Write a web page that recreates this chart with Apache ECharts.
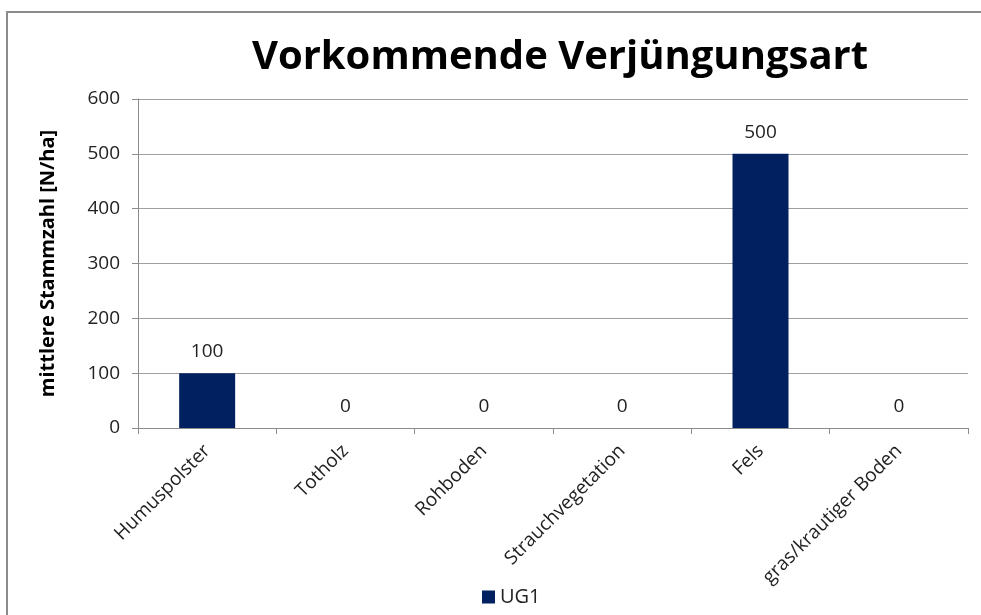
<!DOCTYPE html>
<html>
<head>
<meta charset="utf-8">
<script src="https://cdn.jsdelivr.net/npm/echarts@6/dist/echarts.min.js"></script>
<style>
  html, body { margin: 0; padding: 0; background: #fff; overflow: hidden; }
  #frame { position: absolute; left: 6px; top: 11px; width: 990px; height: 620px; border-left: 2px solid #8c8c8c; border-top: 2px solid #8c8c8c; box-sizing: border-box; }
  #chart { position: absolute; left: 0; top: 0; width: 981px; height: 615px; }
</style>
</head>
<body>
<div id="frame"></div>
<div id="chart"></div>
<script>
const categories = ['Humuspolster', 'Totholz', 'Rohboden', 'Strauchvegetation', 'Fels', 'gras/krautiger Boden'];
const ug1 = [100, 0, 0, 0, 500, 0];
const font = '"Open Sans", "Noto Sans", sans-serif';

const chart = echarts.init(document.getElementById('chart'), null, { renderer: 'canvas' });

chart.setOption({
    backgroundColor: 'transparent',
    animation: false,
    title: {
        text: 'Vorkommende Verjüngungsart',
        left: 555,
        textAlign: 'center',
        top: 33,
        textStyle: { fontFamily: font, fontSize: 40, fontWeight: 'bold', color: '#000' },
    },
    grid: { left: 138, right: 13, top: 99, bottom: 187 },
    legend: {
        bottom: 3,
        left: 477,
        itemWidth: 13,
        itemHeight: 13,
        itemGap: 8,
        icon: 'rect',
        textStyle: { fontFamily: font, fontSize: 20, color: '#222' },
        data: ['UG1'],
    },
    xAxis: {
        type: 'category',
        data: categories,
        axisLine: { lineStyle: { color: '#8c8c8c', width: 1 } },
        axisTick: { show: true, length: 6, lineStyle: { color: '#8c8c8c' } },
        axisLabel: { rotate: 45, interval: 0, margin: 20, fontFamily: font, fontSize: 19, color: '#222' },
    },
    yAxis: {
        type: 'value',
        min: 0,
        max: 600,
        interval: 100,
        name: 'mittlere Stammzahl [N/ha]',
        nameLocation: 'middle',
        nameGap: 80,
        nameTextStyle: { fontFamily: font, fontSize: 20, fontWeight: 'bold', color: '#000' },
        axisLine: { show: true, lineStyle: { color: '#8c8c8c', width: 1 } },
        axisTick: { show: true, length: 6, lineStyle: { color: '#8c8c8c' } },
        axisLabel: { margin: 18, fontFamily: font, fontSize: 19, color: '#222' },
        splitLine: { lineStyle: { color: '#a0a0a0', width: 1 } },
    },
    series: [{
        name: 'UG1',
        type: 'bar',
        data: ug1,
        color: '#002060',
        barWidth: 56,
        label: { show: true, position: 'top', distance: 12, fontFamily: font, fontSize: 19, color: '#222' },
    }],
});
</script>
</body>
</html>
